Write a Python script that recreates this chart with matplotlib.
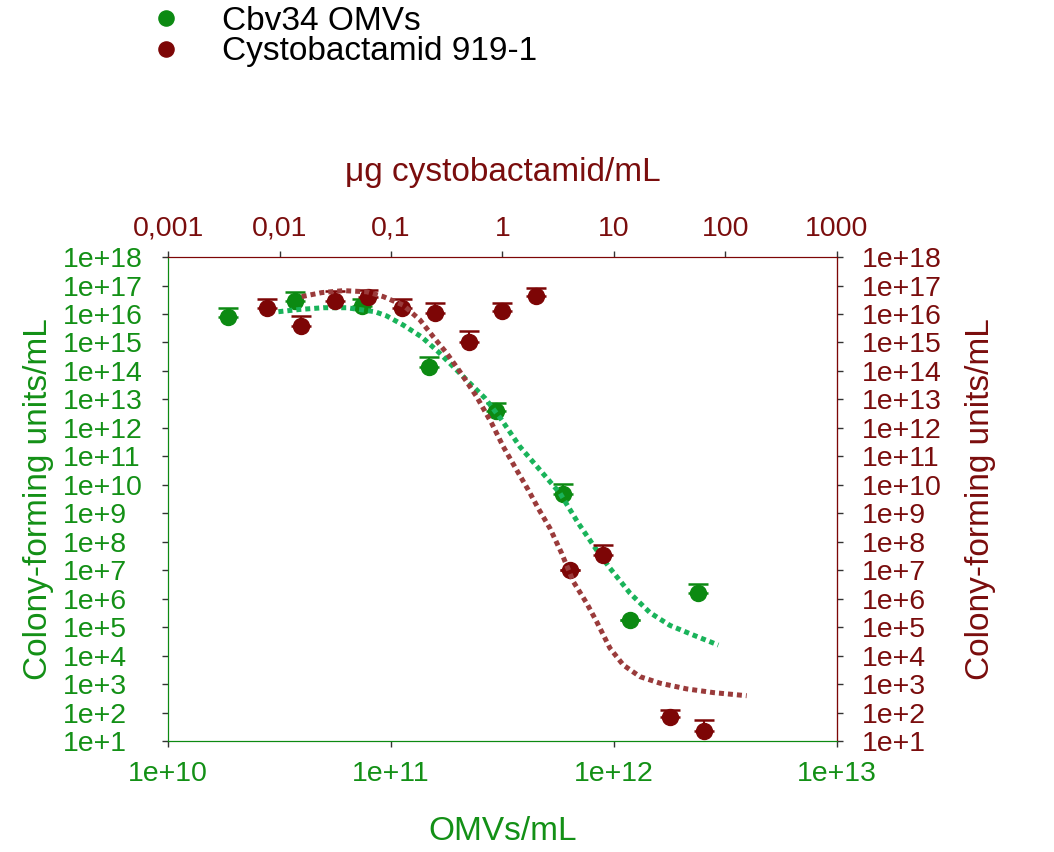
import numpy as np
import matplotlib.pyplot as plt
from matplotlib.ticker import NullLocator

plt.rcParams['font.family'] = ['Liberation Sans', 'DejaVu Sans']

# Cbv34 OMVs (bottom axis, OMVs/mL), y as log10(CFU/mL)
green_x = [1.85e10, 3.7e10, 7.4e10, 1.48e11, 2.96e11, 5.9e11, 1.18e12, 2.37e12]
green_logy = [15.88, 16.46, 16.29, 14.13, 12.59, 9.67, 5.24, 6.21]
green_logcap = [16.22, 16.77, 16.53, 14.48, 12.86, 10.02, 5.24, 6.53]

# Cystobactamid 919-1 (top axis, ug/mL)
red_x = [0.0078, 0.0156, 0.0313, 0.0625, 0.125, 0.25, 0.5, 1.0, 2.0, 4.0, 8.0, 32.0, 64.0]
red_logy = [16.22, 15.58, 16.47, 16.58, 16.20, 16.03, 15.03, 16.10, 16.64, 7.01, 7.54, 1.83, 1.36]
red_logcap = [16.54, 15.92, 16.81, 16.84, 16.54, 16.40, 15.40, 16.37, 16.92, 7.01, 7.90, 2.09, 1.73]

# fitted curves
green_fit_logx = [10.495, 10.592, 10.696, 10.801, 10.928, 10.981, 11.055, 11.138, 11.212, 11.279,
                  11.347, 11.422, 11.496, 11.578, 11.668, 11.758, 11.840, 11.922, 11.982, 12.072,
                  12.161, 12.251, 12.356, 12.468]
green_fit_logy = [16.08, 16.16, 16.22, 16.22, 16.08, 15.93, 15.61, 15.19, 14.67, 14.15,
                  13.62, 13.04, 12.28, 11.34, 10.52, 9.70, 8.65, 7.71, 7.07, 6.19,
                  5.51, 5.06, 4.72, 4.37]
red_fit_logx = [-1.801, -1.622, -1.428, -1.218, -1.069, -0.890, -0.740, -0.621, -0.500, -0.381,
                -0.231, -0.097, 0.007, 0.127, 0.231, 0.321, 0.426, 0.531, 0.635, 0.755,
                0.845, 0.964, 1.083, 1.233, 1.413, 1.652, 1.891, 2.190]
red_fit_logy = [16.61, 16.75, 16.82, 16.78, 16.61, 16.31, 15.79, 15.20, 14.62, 13.97,
                13.09, 12.16, 11.34, 10.52, 9.82, 9.17, 8.47, 7.59, 6.60, 5.84,
                5.19, 4.26, 3.67, 3.26, 3.03, 2.83, 2.70, 2.59]

bottom_ticks = [1e10, 1e11, 1e12, 1e13]
bottom_labels = ['1e+10', '1e+11', '1e+12', '1e+13']
top_ticks = [0.001, 0.01, 0.1, 1, 10, 100, 1000]
top_labels = ['0,001', '0,01', '0,1', '1', '10', '100', '1000']
y_ticks = [10.0 ** k for k in range(1, 19)]
y_labels = ['1e+%d' % k for k in range(1, 19)]

GREEN = '#0c8a12'
GREEN_TXT = '#139016'
GREEN_FIT = '#19b35a'
RED = '#7d0606'
RED_TXT = '#7a0d0d'
RED_FIT = '#9a3b3b'
TICK = '#333333'

fig = plt.figure(figsize=(10.54, 8.52), dpi=100)
ax = fig.add_axes([0.1594, 0.1303, 0.6347, 0.568])
ax.set_xscale('log')
ax.set_yscale('log')
ax.set_xlim(1e10, 1e13)
ax.set_ylim(1e1, 1e18)

axt = ax.twiny()
axt.set_xscale('log')
axt.set_xlim(1e-3, 1e3)

# green series on bottom axis
gy = np.power(10.0, green_logy)
gcap = np.power(10.0, green_logcap)
ax.errorbar(green_x, gy, yerr=[np.zeros(len(gy)), gcap - gy], fmt='none',
            ecolor=GREEN, elinewidth=1.5, capsize=7.5, capthick=1.8, zorder=3)
ax.plot(green_x, gy, 'o', color=GREEN, markersize=11.5, zorder=4, label='Cbv34 OMVs')
ax.plot(np.power(10.0, green_fit_logx), np.power(10.0, green_fit_logy), color=GREEN_FIT,
        linewidth=3.6, linestyle=(0, (1, 0.8)), zorder=5)

# red series on top axis
ry = np.power(10.0, red_logy)
rcap = np.power(10.0, red_logcap)
axt.errorbar(red_x, ry, yerr=[np.zeros(len(ry)), rcap - ry], fmt='none',
             ecolor=RED, elinewidth=1.5, capsize=7.5, capthick=1.8, zorder=3)
axt.plot(red_x, ry, 'o', color=RED, markersize=11.5, zorder=4, label='Cystobactamid 919-1')
axt.plot(np.power(10.0, red_fit_logx), np.power(10.0, red_fit_logy), color=RED_FIT,
         linewidth=3.6, linestyle=(0, (1, 0.8)), zorder=5)

# ticks
ax.set_xticks(bottom_ticks)
ax.set_xticklabels(bottom_labels)
ax.set_yticks(y_ticks)
ax.set_yticklabels(y_labels)
ax.xaxis.set_minor_locator(NullLocator())
ax.yaxis.set_minor_locator(NullLocator())
axt.set_xticks(top_ticks)
axt.set_xticklabels(top_labels)
axt.xaxis.set_minor_locator(NullLocator())

ax.tick_params(axis='x', direction='out', length=4, width=1, color=TICK,
               labelsize=20.5, labelcolor=GREEN_TXT, pad=10.5)
ax.tick_params(axis='y', direction='out', length=4, width=1, color=TICK,
               labelsize=20.5, labelcolor=GREEN_TXT, pad=72)
for lab in ax.get_yticklabels():
    lab.set_horizontalalignment('left')
axt.tick_params(axis='x', direction='out', length=4, width=1, color=TICK,
                labelsize=20.5, labelcolor=RED_TXT, pad=7)

sec = ax.secondary_yaxis('right')
sec.set_yticks(y_ticks)
sec.set_yticklabels(y_labels)
sec.yaxis.set_minor_locator(NullLocator())
sec.tick_params(axis='y', direction='out', length=4, width=1, color=TICK,
                labelsize=20.5, labelcolor=RED_TXT, pad=14)
sec.spines['right'].set_color(RED)

# spines
for a in (ax, axt):
    a.spines['left'].set_color(GREEN)
    a.spines['bottom'].set_color(GREEN)
    a.spines['top'].set_color(RED)
    a.spines['right'].set_color(RED)

# labels
ax.set_xlabel('OMVs/mL', fontsize=24, color=GREEN_TXT, labelpad=21)
ax.set_ylabel('Colony-forming units/mL', fontsize=24, color=GREEN_TXT, labelpad=6)
axt.set_xlabel('\u03bcg cystobactamid/mL', fontsize=24, color=RED_TXT, labelpad=25)
sec.set_ylabel('Colony-forming units/mL', fontsize=24, color=RED_TXT, labelpad=17)

h1, l1 = ax.get_legend_handles_labels()
h2, l2 = axt.get_legend_handles_labels()
fig.legend(h1 + h2, l1 + l2, loc='upper left', bbox_to_anchor=(0.1417, 0.993),
           frameon=False, fontsize=24, handlelength=1.0, handletextpad=1.18,
           borderpad=0.0, labelspacing=-0.02, borderaxespad=0.0,
           labelcolor='black', markerscale=0.95)

fig.savefig('out.png', dpi=100)
